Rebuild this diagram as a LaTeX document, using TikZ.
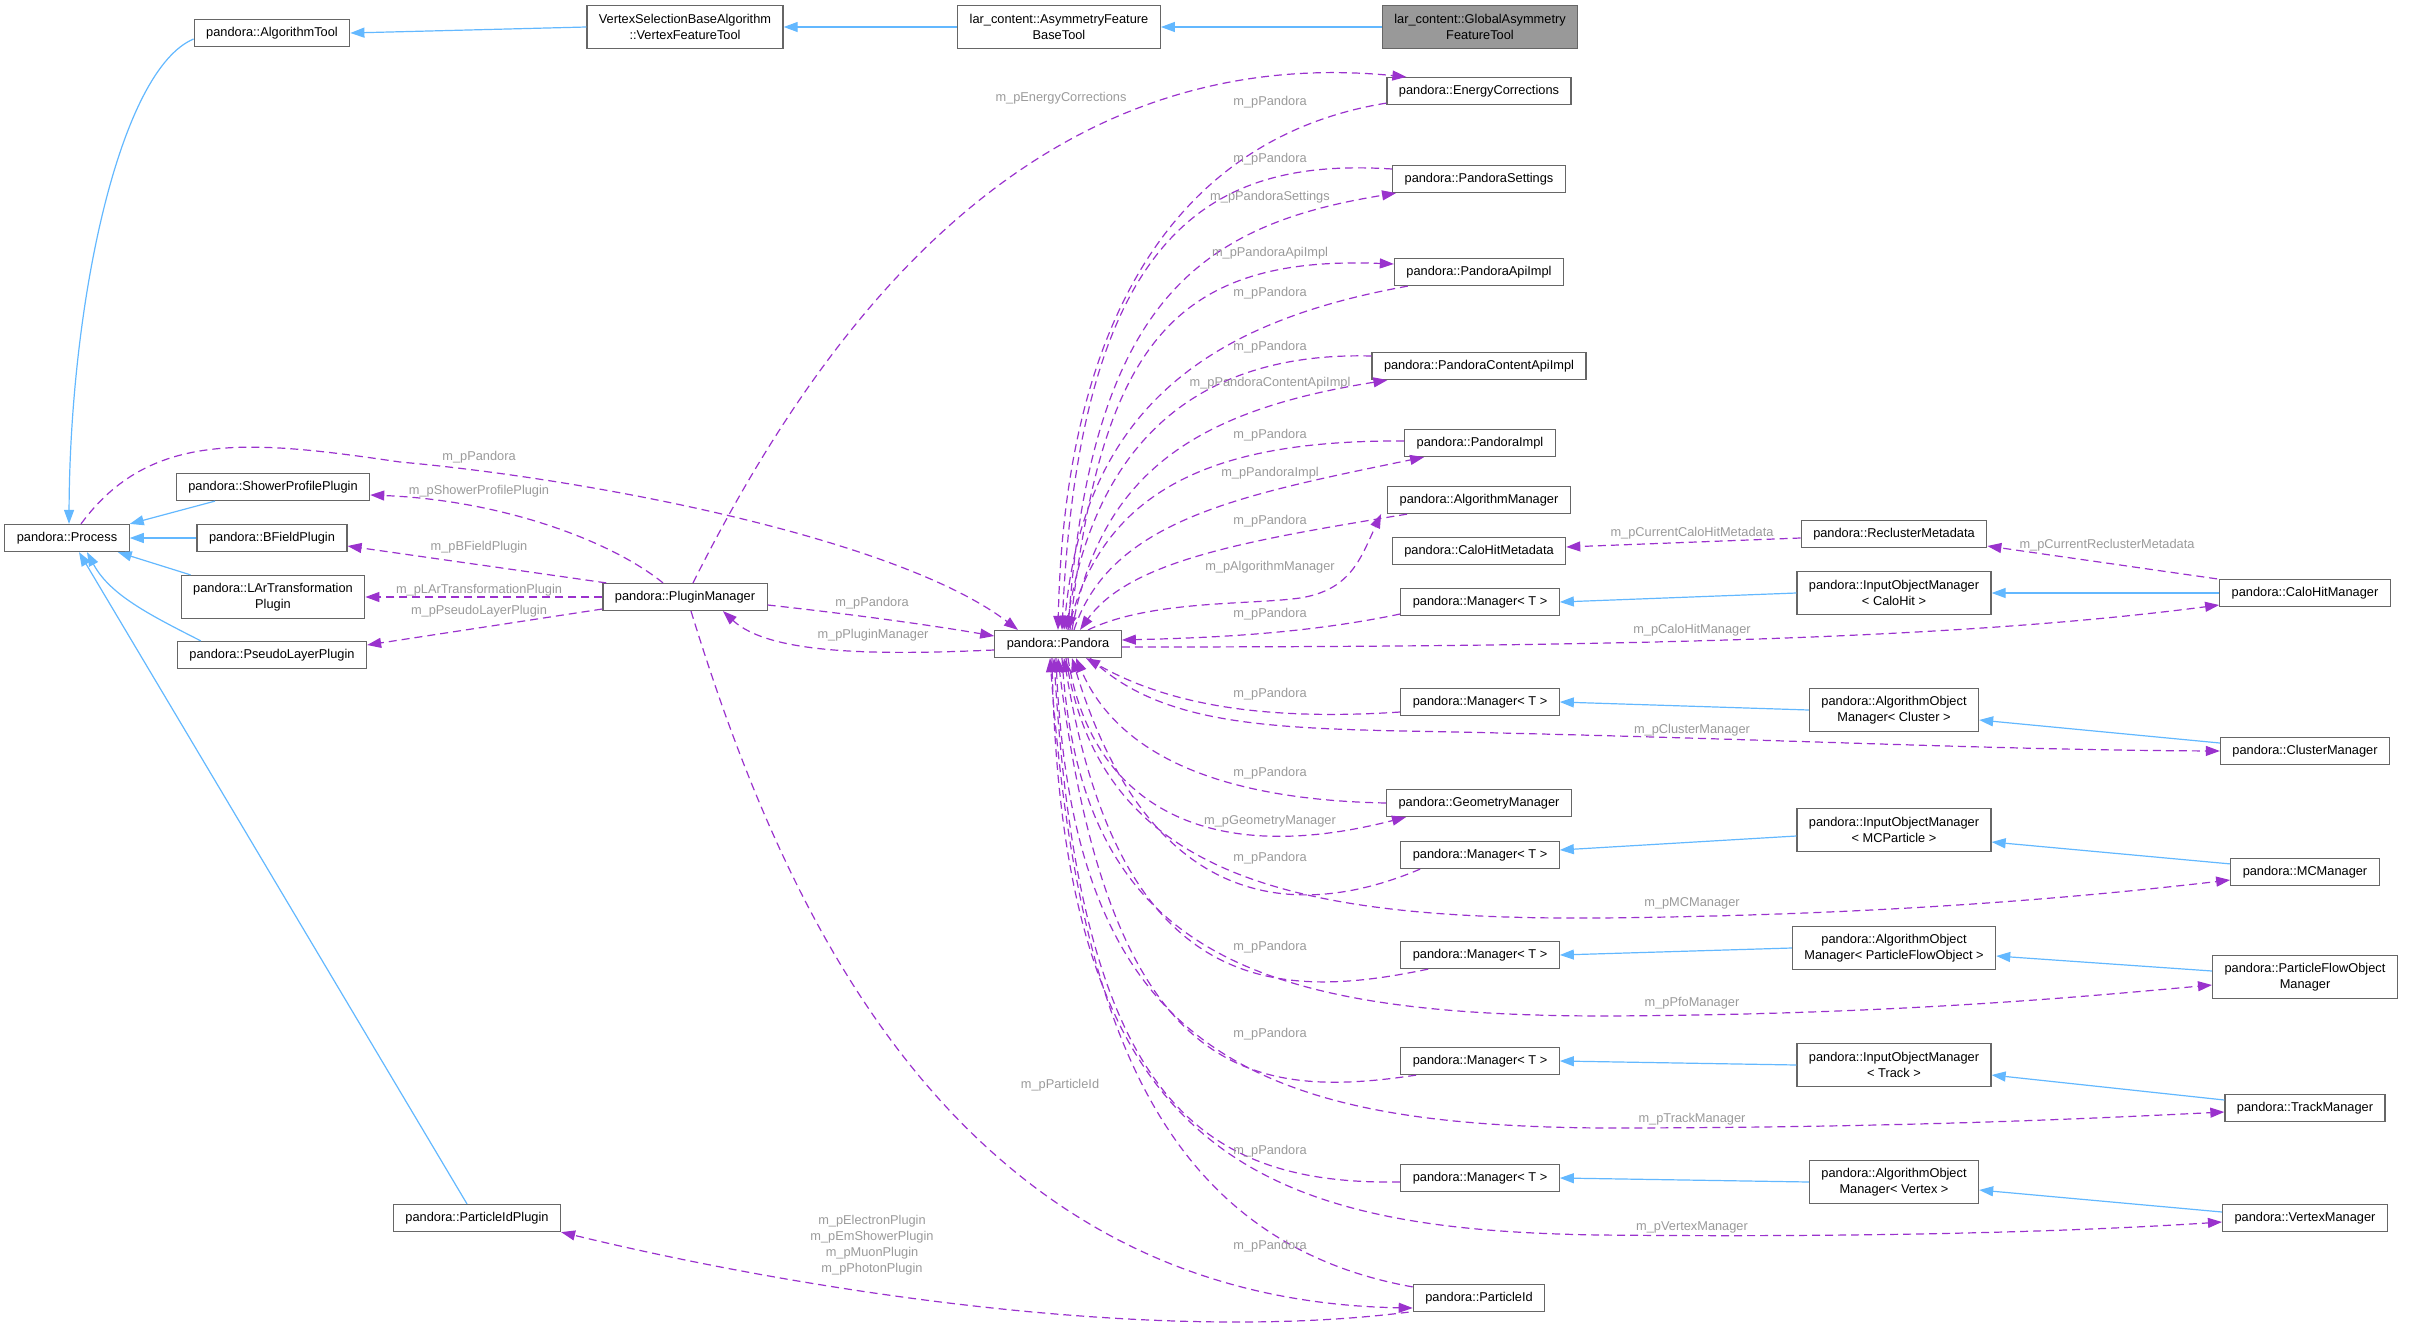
\documentclass[tikz,border=0pt]{standalone}
\usepackage{fontspec}
\setmainfont{Liberation Sans}
\usetikzlibrary{arrows.meta}
\definecolor{inhblue}{RGB}{99,184,255}
\definecolor{usepurple}{RGB}{154,50,205}
\definecolor{lblgray}{RGB}{154,154,154}
\definecolor{boxgray}{RGB}{102,102,102}
\definecolor{curfill}{RGB}{153,153,153}

\begin{document}
\begin{tikzpicture}[x=0.5pt,y=-0.5pt,>={Triangle[length=7pt,width=5pt]},
                      line width=0.6pt,font=\fontsize{6.4}{8}\selectfont]
    \tikzstyle{cls}=[draw=boxgray,fill=white,inner xsep=6pt,inner ysep=1pt,
                     minimum height=13.5pt,align=center]
    \tikzstyle{twoline}=[minimum height=21.5pt]
    \tikzstyle{isa}=[->,inhblue]
    \tikzstyle{uses}=[->,usepurple,dash pattern=on 4pt off 2.5pt]
    \tikzstyle{lbl}=[text=lblgray,inner sep=0pt]

    \useasboundingbox (0,0) rectangle (2422,1328);

    % tool chain
    \node[cls] (algTool) at (272,33) {pandora::AlgorithmTool};
    \node[cls,twoline] (vft) at (685,27) {VertexSelectionBaseAlgorithm\\::VertexFeatureTool};
    \node[cls,twoline] (asymBase) at (1059,27) {lar\_content::AsymmetryFeature\\BaseTool};
    \node[cls,twoline,fill=curfill] (globalAsym) at (1480,27) {lar\_content::GlobalAsymmetry\\FeatureTool};

    % process and plugins
    \node[cls] (process) at (67,538) {pandora::Process};
    \node[cls] (showerPlugin) at (273,487) {pandora::ShowerProfilePlugin};
    \node[cls] (bfieldPlugin) at (272,538) {pandora::BFieldPlugin};
    \node[cls,twoline] (larPlugin) at (273,597) {pandora::LArTransformation\\Plugin};
    \node[cls] (pseudoPlugin) at (272,655) {pandora::PseudoLayerPlugin};
    \node[cls] (pluginMgr) at (685,597) {pandora::PluginManager};
    \node[cls] (particleIdPlugin) at (477,1218) {pandora::ParticleIdPlugin};

    % pandora and its members
    \node[cls] (pandora) at (1058,644) {pandora::Pandora};
    \node[cls] (ec) at (1479,91) {pandora::EnergyCorrections};
    \node[cls] (pandoraSettings) at (1479,179) {pandora::PandoraSettings};
    \node[cls] (apiImpl) at (1479,272) {pandora::PandoraApiImpl};
    \node[cls] (contentApiImpl) at (1479,366) {pandora::PandoraContentApiImpl};
    \node[cls] (pandoraImpl) at (1480,443) {pandora::PandoraImpl};
    \node[cls] (algMgr) at (1479,500) {pandora::AlgorithmManager};
    \node[cls] (caloHitMeta) at (1479,551) {pandora::CaloHitMetadata};
    \node[cls] (mgr1) at (1480,602) {pandora::Manager\textless{} T \textgreater};
    \node[cls] (mgr2) at (1480,702) {pandora::Manager\textless{} T \textgreater};
    \node[cls] (geomMgr) at (1479,803) {pandora::GeometryManager};
    \node[cls] (mgr3) at (1480,855) {pandora::Manager\textless{} T \textgreater};
    \node[cls] (mgr4) at (1480,955) {pandora::Manager\textless{} T \textgreater};
    \node[cls] (mgr5) at (1480,1061) {pandora::Manager\textless{} T \textgreater};
    \node[cls] (mgr6) at (1480,1178) {pandora::Manager\textless{} T \textgreater};
    \node[cls] (particleId) at (1479,1298) {pandora::ParticleId};

    % object managers
    \node[cls] (reclusterMeta) at (1894,534) {pandora::ReclusterMetadata};
    \node[cls,twoline] (iomCaloHit) at (1894,593) {pandora::InputObjectManager\\\textless{} CaloHit \textgreater};
    \node[cls] (caloHitMgr) at (2305,593) {pandora::CaloHitManager};
    \node[cls,twoline] (aomCluster) at (1894,710) {pandora::AlgorithmObject\\Manager\textless{} Cluster \textgreater};
    \node[cls] (clusterMgr) at (2305,751) {pandora::ClusterManager};
    \node[cls,twoline] (iomMC) at (1894,830) {pandora::InputObjectManager\\\textless{} MCParticle \textgreater};
    \node[cls] (mcMgr) at (2305,872) {pandora::MCManager};
    \node[cls,twoline] (aomPfo) at (1894,948) {pandora::AlgorithmObject\\Manager\textless{} ParticleFlowObject \textgreater};
    \node[cls,twoline] (pfoMgr) at (2305,977) {pandora::ParticleFlowObject\\Manager};
    \node[cls,twoline] (iomTrack) at (1894,1065) {pandora::InputObjectManager\\\textless{} Track \textgreater};
    \node[cls] (trackMgr) at (2305,1108) {pandora::TrackManager};
    \node[cls,twoline] (aomVertex) at (1894,1182) {pandora::AlgorithmObject\\Manager\textless{} Vertex \textgreater};
    \node[cls] (vertexMgr) at (2305,1218) {pandora::VertexManager};

    % inheritance
    \draw[isa] (vft.west) -- (algTool.east);
    \draw[isa] (asymBase.west) -- (vft.east);
    \draw[isa] (globalAsym.west) -- (asymBase.east);
    \draw[isa] ([yshift=-3pt]algTool.west) .. controls (120,70) and (70,300) .. ([xshift=1pt]process.north);
    \draw[isa] ([xshift=-29pt]showerPlugin.south) -- (process.north east);
    \draw[isa] (bfieldPlugin.west) -- (process.east);
    \draw[isa] ([xshift=5pt]larPlugin.north west) -- ([xshift=-6pt]process.south east);
    \draw[isa] ([xshift=12pt]pseudoPlugin.north west) .. controls (150,615) and (110,595) .. ([xshift=10pt]process.south);
    \draw[isa] ([xshift=-5pt]particleIdPlugin.north) -- ([xshift=6pt]process.south);
    \draw[isa] (iomCaloHit.west) -- (mgr1.east);
    \draw[isa] (caloHitMgr.west) -- (iomCaloHit.east);
    \draw[isa] (aomCluster.west) -- (mgr2.east);
    \draw[isa] ([yshift=4pt]clusterMgr.west) -- ([yshift=-5pt]aomCluster.east);
    \draw[isa] ([yshift=-3pt]iomMC.west) -- ([yshift=2.5pt]mgr3.east);
    \draw[isa] ([yshift=-3pt]mcMgr.north west) -- ([yshift=-6pt]iomMC.east);
    \draw[isa] (aomPfo.west) -- (mgr4.east);
    \draw[isa] ([yshift=3pt]pfoMgr.west) -- ([yshift=-4pt]aomPfo.east);
    \draw[isa] (iomTrack.west) -- (mgr5.east);
    \draw[isa] ([yshift=4pt]trackMgr.west) -- ([yshift=-5pt]iomTrack.east);
    \draw[isa] (aomVertex.west) -- (mgr6.east);
    \draw[isa] ([yshift=3pt]vertexMgr.west) -- ([yshift=-4pt]aomVertex.east);

    % plugin manager
    \draw[uses] ([xshift=7pt]process.north) .. controls (150,430) and (250,440) .. (400,462)
                .. controls (600,480) and (900,540) .. ([xshift=-20pt]pandora.north);
    \draw[uses] ([yshift=-4pt]pluginMgr.east) .. controls (850,614) and (930,625) .. ([yshift=4pt]pandora.west);
    \draw[uses] ([yshift=-3pt]pandora.west) .. controls (880,655) and (770,655) .. ([xshift=19pt]pluginMgr.south);
    \draw[uses] ([xshift=-11pt]pluginMgr.north) .. controls (610,540) and (500,500) .. ([yshift=-4pt]showerPlugin.east);
    \draw[uses] ([xshift=2pt]pluginMgr.north west) -- ([yshift=-4pt]bfieldPlugin.east);
    \draw[uses] (pluginMgr.west) -- (larPlugin.east);
    \draw[uses] ([yshift=-6pt]pluginMgr.west) -- ([yshift=5pt]pseudoPlugin.east);
    \draw[uses] ([xshift=4pt]pluginMgr.north) .. controls (820,330) and (1030,40) .. ([xshift=10pt]ec.north west);
    \draw[uses] ([xshift=3pt]pluginMgr.south) .. controls (780,900) and (950,1300) .. ([yshift=-5pt]particleId.west);
    \draw[uses] ([xshift=-2pt]particleId.south west) .. controls (1150,1345) and (800,1290) .. (particleIdPlugin.south east);
    \draw[uses] ([yshift=-1.5pt]particleId.north west) .. controls (1150,1240) and (1075,1000) .. ([xshift=-4pt]pandora.south);

    % members above pandora
    \draw[uses] ([yshift=1pt]ec.south west) .. controls (1190,135) and (1065,300) .. (pandora.north);
    \draw[uses] ([yshift=5pt]pandoraSettings.west) .. controls (1220,158) and (1080,220) .. ([xshift=2pt]pandora.north);
    \draw[uses] ([xshift=5pt]pandora.north) .. controls (1090,300) and (1200,225) .. ([xshift=2pt]pandoraSettings.south west);
    \draw[uses] ([xshift=6pt]pandora.north) .. controls (1100,350) and (1170,255) .. ([yshift=4pt]apiImpl.west);
    \draw[uses] ([xshift=7pt]apiImpl.south west) .. controls (1220,320) and (1085,400) .. ([xshift=3pt]pandora.north);
    \draw[uses] ([yshift=5pt]contentApiImpl.west) .. controls (1220,352) and (1100,420) .. ([xshift=4pt]pandora.north);
    \draw[uses] ([xshift=7pt]pandora.north) .. controls (1100,470) and (1200,410) .. ([xshift=8pt]contentApiImpl.south west);
    \draw[uses] ([yshift=1pt]pandoraImpl.west) .. controls (1230,440) and (1110,480) .. ([xshift=5pt]pandora.north);
    \draw[uses] ([xshift=8pt]pandora.north) .. controls (1110,520) and (1240,495) .. ([xshift=10pt]pandoraImpl.south west);
    \draw[uses] ([xshift=10pt]algMgr.south west) .. controls (1250,540) and (1130,560) .. ([xshift=11pt]pandora.north);
    \draw[uses] ([xshift=15pt]pandora.north) .. controls (1150,600) and (1250,605) .. (1300,598)
                .. controls (1350,590) and (1360,560) .. ([xshift=-3pt]algMgr.south west);
    \draw[uses] ([yshift=-6pt]mgr1.west) .. controls (1300,635) and (1200,638) .. ([yshift=2pt]pandora.east);
    \draw[uses] ([yshift=-1.5pt]pandora.east) .. controls (1600,647) and (1950,640) .. ([yshift=-6pt]caloHitMgr.west);
    \draw[uses] ([yshift=-2pt]reclusterMeta.west) -- ([yshift=2pt]caloHitMeta.east);
    \draw[uses] ([xshift=-1pt]caloHitMgr.north west) -- ([yshift=-6pt]reclusterMeta.east);

    % members below pandora
    \draw[uses] ([yshift=-5pt]mgr2.west) .. controls (1250,722) and (1160,700) .. ([xshift=14pt]pandora.south);
    \draw[uses] ([xshift=16pt]pandora.south) .. controls (1170,735) and (1300,728) .. (1500,733)
                .. controls (1800,740) and (2000,750) .. (clusterMgr.west);
    \draw[uses] (geomMgr.west) .. controls (1230,800) and (1120,760) .. ([xshift=9pt]pandora.south);
    \draw[uses] ([xshift=5pt]pandora.south) .. controls (1090,800) and (1200,870) .. ([xshift=10pt]geomMgr.south west);
    \draw[uses] ([xshift=10pt]mgr3.south west) .. controls (1300,920) and (1150,915) .. ([xshift=7pt]pandora.south);
    \draw[uses] ([xshift=4pt]pandora.south) .. controls (1100,880) and (1300,920) .. (1600,918)
                .. controls (1900,915) and (2100,895) .. ([yshift=-4pt]mcMgr.west);
    \draw[uses] ([xshift=14pt]mgr4.south west) .. controls (1280,1000) and (1120,1000) .. ([xshift=3pt]pandora.south);
    \draw[uses] ([xshift=2pt]pandora.south) .. controls (1080,950) and (1250,1015) .. (1600,1016)
                .. controls (1900,1015) and (2100,995) .. ([yshift=-4pt]pfoMgr.west);
    \draw[uses] ([xshift=8pt]mgr5.south west) .. controls (1250,1100) and (1110,1080) .. (pandora.south);
    \draw[uses] ([xshift=-1pt]pandora.south) .. controls (1070,1050) and (1250,1125) .. (1600,1128)
                .. controls (1900,1128) and (2100,1118) .. ([yshift=-2pt]trackMgr.west);
    \draw[uses] ([yshift=-2pt]mgr6.west) .. controls (1200,1185) and (1080,1100) .. ([xshift=-2pt]pandora.south);
    \draw[uses] ([xshift=-3pt]pandora.south) .. controls (1060,1150) and (1250,1230) .. (1600,1235)
                .. controls (1900,1238) and (2100,1230) .. ([yshift=-2pt]vertexMgr.west);

    % labels
    \node[lbl] (lProcPandora) at (479,457) {m\_pPandora};
    \node[lbl] (lShower) at (479,491) {m\_pShowerProfilePlugin};
    \node[lbl] (lBField) at (479,547) {m\_pBFieldPlugin};
    \node[lbl] (lLAr) at (479,590) {m\_pLArTransformationPlugin};
    \node[lbl] (lPseudo) at (479,611) {m\_pPseudoLayerPlugin};
    \node[lbl] (lPmPandora) at (872,603) {m\_pPandora};
    \node[lbl] (lPluginMgr) at (873,635) {m\_pPluginManager};
    \node[lbl] (lEnergy) at (1061,98) {m\_pEnergyCorrections};
    \node[lbl] (lParticleId) at (1060,1085) {m\_pParticleId};
    \node[lbl,align=center] (lPlugins) at (872,1245)
        {m\_pElectronPlugin\\m\_pEmShowerPlugin\\m\_pMuonPlugin\\m\_pPhotonPlugin};
    \foreach \y [count=\i] in {102,159,293,347,435,521,614,694,773,858,947,1034,1151,1246}
        \node[lbl] (lPan\i) at (1270,\y) {m\_pPandora};
    \node[lbl] (lSettings) at (1270,197) {m\_pPandoraSettings};
    \node[lbl] (lApiImpl) at (1270,253) {m\_pPandoraApiImpl};
    \node[lbl] (lContentApi) at (1270,383) {m\_pPandoraContentApiImpl};
    \node[lbl] (lImpl) at (1270,473) {m\_pPandoraImpl};
    \node[lbl] (lAlgMgr) at (1270,567) {m\_pAlgorithmManager};
    \node[lbl] (lGeomMgr) at (1270,821) {m\_pGeometryManager};
    \node[lbl] (lCurCaloMeta) at (1692,533) {m\_pCurrentCaloHitMetadata};
    \node[lbl] (lCurRecluster) at (2107,545) {m\_pCurrentReclusterMetadata};
    \node[lbl] (lCaloHitMgr) at (1692,630) {m\_pCaloHitManager};
    \node[lbl] (lClusterMgr) at (1692,730) {m\_pClusterManager};
    \node[lbl] (lMCMgr) at (1692,903) {m\_pMCManager};
    \node[lbl] (lPfoMgr) at (1692,1003) {m\_pPfoManager};
    \node[lbl] (lTrackMgr) at (1692,1119) {m\_pTrackManager};
    \node[lbl] (lVertexMgr) at (1692,1227) {m\_pVertexManager};

\end{tikzpicture}
\end{document}
